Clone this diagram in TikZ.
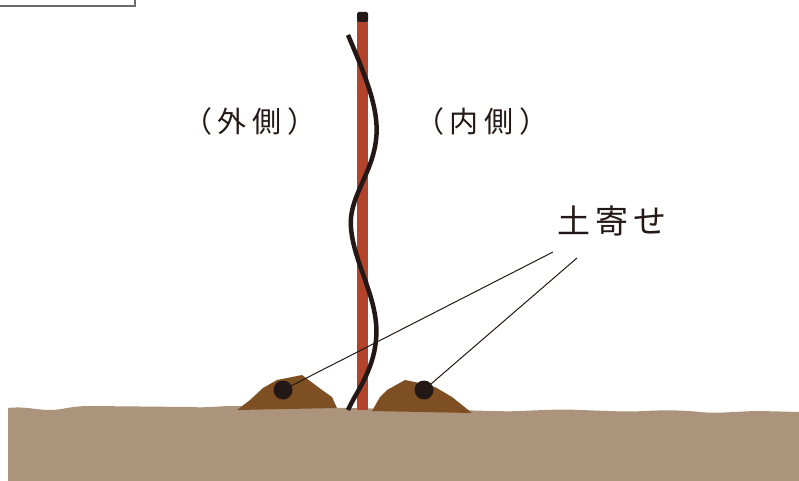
\documentclass[tikz,border=0pt]{standalone}
\usepackage{fontspec}
\newfontfamily\jpfont{Noto Sans CJK JP}
\usetikzlibrary{positioning}

\definecolor{poleRed}{HTML}{B4432B}
\definecolor{wireBlack}{HTML}{231815}
\definecolor{moundBrown}{HTML}{7E4F22}
\definecolor{groundTan}{HTML}{AC937C}
\definecolor{frameGray}{HTML}{6B6B6B}

\begin{document}
\begin{tikzpicture}
[x=1pt, y=-1pt,
  side label/.style={font=\jpfont\fontsize{29}{34}\selectfont, text=wireBlack, inner sep=0pt},
  big label/.style={font=\jpfont\fontsize{33}{38}\selectfont, text=wireBlack, inner sep=0pt},
  mound/.style={fill=moundBrown, draw=none},
  dot/.style={circle, fill=wireBlack, minimum size=19pt, inner sep=0pt},
  leader/.style={draw=wireBlack, line width=1pt}]
  \useasboundingbox (0,0) rectangle (799,481);

  % corner of the frame above
  \draw[frameGray, line width=2pt] (-10,-10) rectangle (135,6);

  % soil
  \fill[groundTan] (8,481) -- (8,408)
    .. controls (25,406) and (35,410) .. (50,410)
    .. controls (62,410) and (70,406) .. (90,406)
    -- (190,407) .. controls (210,408) and (215,406) .. (235,406)
    -- (400,409) .. controls (480,410) and (500,412) .. (520,411)
    .. controls (545,410) and (560,409) .. (580,410)
    .. controls (610,411) and (625,412) .. (645,411)
    .. controls (665,410) and (680,410) .. (700,412)
    .. controls (720,414) and (740,411) .. (760,411)
    -- (799,412) -- (799,481) -- cycle;

  % pole and its cap
  \fill[poleRed] (357,20) rectangle (368,410);
  \fill[wireBlack, rounded corners=1.5pt] (357,12) rectangle (368,22);

  % wire
  \draw[wireBlack, line width=4.5pt] (348,35)
    .. controls (365,75) and (380,110) .. (376,140)
    .. controls (372,175) and (348,198) .. (351,228)
    .. controls (354,265) and (380,300) .. (376,340)
    .. controls (373,372) and (356,392) .. (348,410);

  % mounds
  \fill[mound] (237,410) -- (250,400) -- (263,388) -- (277,380)
    -- (302,375) -- (322,390) -- (332,397) -- (337,408) -- cycle;
  \fill[mound] (372,411) -- (380,397) -- (387,390) -- (405,380)
    -- (415,382) -- (435,387) -- (452,397) -- (472,413) -- cycle;

  \node[dot] (dotL) at (283,390) {};
  \node[dot] (dotR) at (424,390) {};

  % labels
  \node[side label] (outer) at (250,121) {（\hspace{6pt}外\hspace{6pt}側\hspace{6pt}）};
  \node[side label] (inner) at (482,121) {（\hspace{6pt}内\hspace{6pt}側\hspace{6pt}）};
  \node[big label] (earth) at (612,221) {土\hspace{5pt}寄\hspace{5pt}せ};

  \coordinate (tipL) at (553,252);
  \coordinate (tipR) at (577,258);
  \draw[leader] (dotL.center) -- (tipL);
  \draw[leader] (dotR.center) -- (tipR);
\end{tikzpicture}
\end{document}
